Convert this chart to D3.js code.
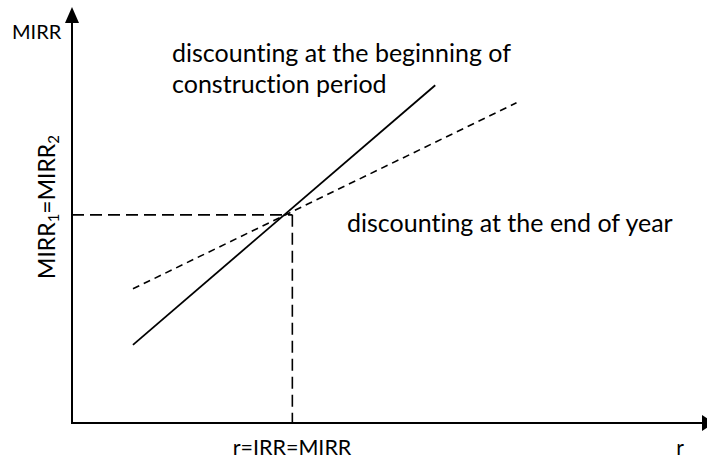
<!DOCTYPE html>
<html>
<head>
<meta charset="utf-8">
<script src="https://cdn.jsdelivr.net/npm/d3@7"></script>
<style>
  html, body { margin: 0; padding: 0; background: #fff; }
  svg text { font-family: Lato, "Open Sans", sans-serif; fill: #000; font-variant-ligatures: none; }
</style>
</head>
<body>
<svg id="chart" width="707" height="461"></svg>
<script>
// abstract units: r on x (0..10), MIRR on y (0..10)
const solidLine = [{ r: 0.96, m: 1.87 }, { r: 5.72, m: 8.08 }];   // beginning of construction period
const dashedLine = [{ r: 0.96, m: 3.21 }, { r: 7.0, m: 7.66 }];   // end of year
const irrPoint = { r: 3.47, m: 4.98 };

const labels = {
  yTop: "MIRR",
  xEnd: "r",
  xMark: "r=IRR=MIRR",
  solid: ["discounting at the beginning of", "construction period"],
  dashed: "discounting at the end of year"
};

const svg = d3.select("#chart");
const W = 707, H = 461;
const margin = { left: 72, bottom: 38, top: 5 };

const x = d3.scaleLinear().domain([0, 10]).range([margin.left, W]);
const y = d3.scaleLinear().domain([0, 10]).range([H - margin.bottom, margin.top]);

const x0 = x(0), y0 = y(0);

// axes
svg.append("line")
  .attr("x1", x0).attr("y1", y0)
  .attr("x2", x0).attr("y2", 20)
  .attr("stroke", "#000").attr("stroke-width", 2);

svg.append("path")
  .attr("d", `M${x0},7 L${x0 - 7},23 L${x0 + 7},23 Z`)
  .attr("fill", "#000");

svg.append("line")
  .attr("x1", x0 - 1).attr("y1", y0)
  .attr("x2", 703).attr("y2", y0)
  .attr("stroke", "#000").attr("stroke-width", 2);

svg.append("path")
  .attr("d", `M702,${y0 - 8} L714,${y0} L702,${y0 + 8} Z`)
  .attr("fill", "#000");

// guide lines to the crossing point
svg.append("line")
  .attr("x1", x0).attr("y1", y(irrPoint.m))
  .attr("x2", x(irrPoint.r)).attr("y2", y(irrPoint.m))
  .attr("stroke", "#000").attr("stroke-width", 1.6)
  .attr("stroke-dasharray", "12,6");

svg.append("line")
  .attr("x1", x(irrPoint.r)).attr("y1", y(irrPoint.m))
  .attr("x2", x(irrPoint.r)).attr("y2", y0)
  .attr("stroke", "#000").attr("stroke-width", 1.6)
  .attr("stroke-dasharray", "12,6");

const line = d3.line()
  .x(d => x(d.r))
  .y(d => y(d.m));

svg.append("path")
  .datum(solidLine)
  .attr("d", line)
  .attr("fill", "none")
  .attr("stroke", "#000")
  .attr("stroke-width", 1.8);

svg.append("path")
  .datum(dashedLine)
  .attr("d", line)
  .attr("fill", "none")
  .attr("stroke", "#000")
  .attr("stroke-width", 1.6)
  .attr("stroke-dasharray", "7,5");

// texts
const fsNote = 25;

svg.append("text")
  .attr("x", 12).attr("y", 39)
  .attr("font-size", 20)
  .text(labels.yTop);

svg.append("text")
  .attr("x", 684).attr("y", 455)
  .attr("text-anchor", "end")
  .attr("font-size", 21)
  .text(labels.xEnd);

svg.append("text")
  .attr("x", 292).attr("y", 455)
  .attr("text-anchor", "middle")
  .attr("font-size", 21.5)
  .text(labels.xMark);

svg.append("text")
  .attr("x", 172).attr("y", 62)
  .attr("font-size", fsNote)
  .text(labels.solid[0]);

svg.append("text")
  .attr("x", 172).attr("y", 93)
  .attr("font-size", fsNote)
  .text(labels.solid[1]);

svg.append("text")
  .attr("x", 347).attr("y", 232)
  .attr("font-size", fsNote)
  .text(labels.dashed);

// rotated y label with subscripts
const fsY = 23;
const yl = svg.append("text")
  .attr("transform", "translate(55, 207) rotate(-90)")
  .attr("text-anchor", "middle")
  .attr("font-size", fsY);
yl.append("tspan").text("MIRR");
yl.append("tspan").attr("font-size", fsY * 0.65).attr("dy", 4).text("1");
yl.append("tspan").attr("dy", -4).text("=MIRR");
yl.append("tspan").attr("font-size", fsY * 0.65).attr("dy", 4).text("2");
</script>
</body>
</html>
